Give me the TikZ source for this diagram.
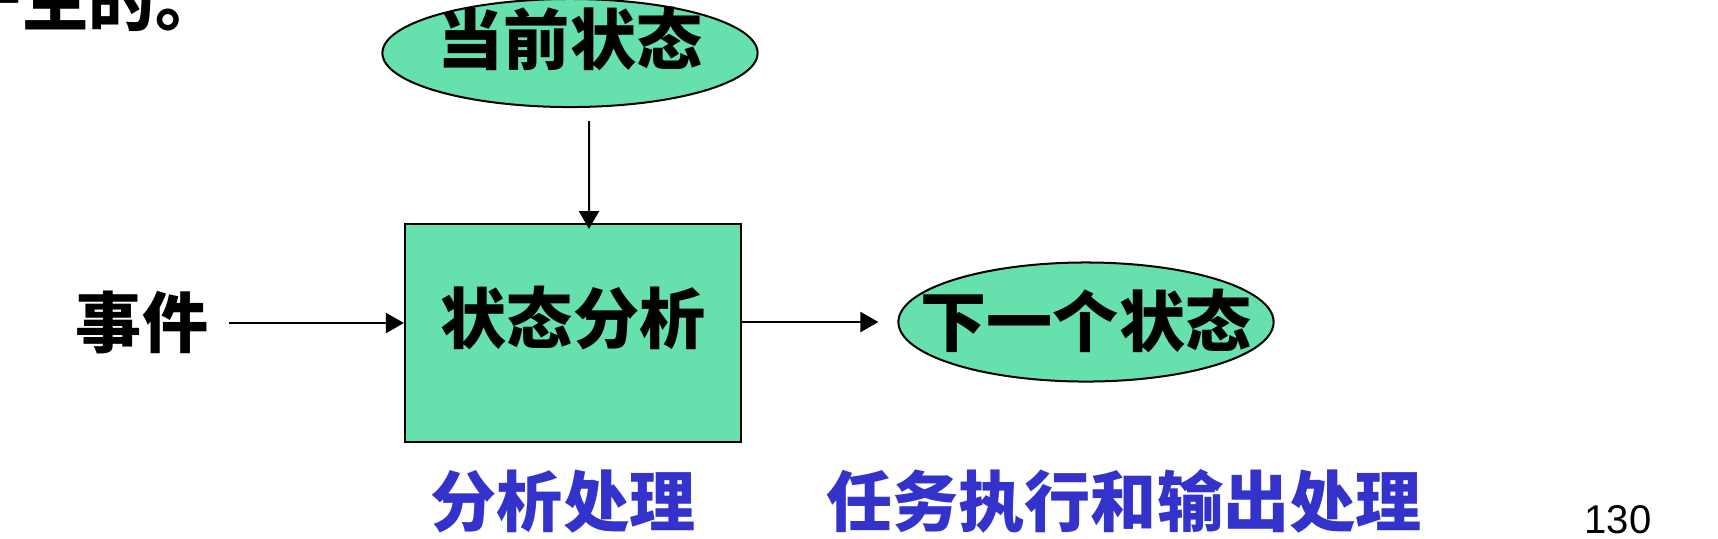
\documentclass[tikz,border=0pt]{standalone}
\usepackage{fontspec}
\setmainfont{Liberation Sans}
\newfontfamily\cjk{Noto Sans CJK SC}
\usetikzlibrary{shapes.geometric,arrows.meta}
\definecolor{stategreen}{RGB}{102,224,173}
\definecolor{taskblue}{RGB}{51,51,204}
\tikzset{
	zh/.style={font=\cjk\bfseries\fontsize{18.8}{22}\selectfont, inner sep=0pt, text height=16pt, text depth=1.8pt},
	state/.style={ellipse, draw, fill=stategreen, line width=0.57pt, inner sep=0pt, minimum width=3.75cm, minimum height=1.08cm},
	procbox/.style={zh, draw, fill=stategreen, line width=0.57pt, minimum width=3.36cm, minimum height=2.18cm},
	flow/.style={line width=0.57pt, -{Triangle[length=5.1pt,width=5.7pt]}},
	note/.style={zh, text=taskblue}
}

\begin{document}
\begin{tikzpicture}[x=0.01cm,y=-0.01cm]
	\useasboundingbox (0,0) rectangle (1718,538);
	\clip (0,0) rectangle (1718,538);
	
	%TEXT ABOVE
	\node[zh, anchor=base west] (prev) at (-44,25) {产生的。};
	
	%STATES
	\node[state, label={[zh, yshift=3.7pt]center:当前状态}] (cur) at (570,53) {};
	\node[procbox, text depth=9.8pt] (ana) at (573,333) {状态分析};
	\node[state, minimum height=1.19cm, label={[zh]center:下一个状态}] (nxt) at (1086,322) {};
	\node[zh] (ev) at (142,323) {事件};
	
	%ARROWS
	\draw[flow, shorten <=0.13cm, shorten >=-0.06cm] ([xshift=0.19cm]cur.south) -- ([xshift=0.16cm]ana.north);
	\draw[flow, shorten <=0.2cm] (ev.east) -- (ev.east -| ana.west);
	\draw[flow, shorten >=0.19cm] (ana.east |- nxt.west) -- (nxt.west);
	
	%LABELS
	\node[note] (anatxt) at (563,502) {分析处理};
	\node[note] (tasktxt) at (1124,502) {任务执行和输出处理};
	\node[font=\fontsize{11.4}{13}\selectfont, inner sep=0pt] (page) at (1618,520) {130};
\end{tikzpicture}
\end{document}
